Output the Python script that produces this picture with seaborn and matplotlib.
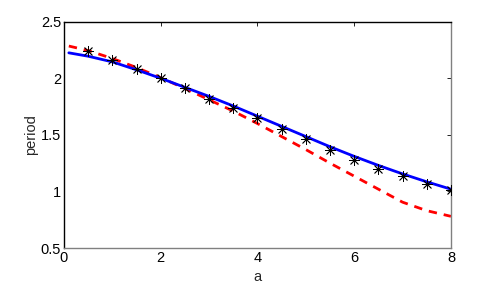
import numpy as np
import matplotlib
matplotlib.use("Agg")
import matplotlib.pyplot as plt
import seaborn as sns
import pandas as pd

# measured points (stars)
a_pts = [0.5, 1, 1.5, 2, 2.5, 3, 3.5, 4, 4.5, 5, 5.5, 6, 6.5, 7, 7.5, 8]
period_pts = [2.24, 2.16, 2.08, 2.00, 1.91, 1.82, 1.74, 1.65, 1.55, 1.46,
              1.37, 1.28, 1.20, 1.14, 1.07, 1.01]

# solid blue curve
a_blue = [0.1, 0.5, 1, 1.5, 2, 2.5, 3, 3.5, 4, 4.5, 5, 5.5, 6, 6.5, 7, 7.5, 8]
period_blue = [2.225, 2.195, 2.145, 2.075, 2.00, 1.92, 1.84, 1.755, 1.665,
               1.575, 1.485, 1.395, 1.31, 1.23, 1.155, 1.085, 1.02]

# dashed red curve
a_red = [0.1, 0.5, 1, 1.5, 2, 2.5, 3, 3.5, 4, 4.5, 5, 5.5, 6, 6.5, 7, 7.5, 8]
period_red = [2.285, 2.245, 2.175, 2.095, 2.005, 1.91, 1.81, 1.71, 1.60,
              1.485, 1.37, 1.25, 1.135, 1.02, 0.905, 0.83, 0.78]

xticks = [0, 2, 4, 6, 8]
yticks = [0.5, 1, 1.5, 2, 2.5]
ytick_labels = ['0.5', '1', '1.5', '2', '2.5']

sns.set_style("white")
plt.rcParams['font.family'] = ['Liberation Sans', 'DejaVu Sans']

fig = plt.figure(figsize=(4.98, 2.85), dpi=100)
ax = fig.add_axes([0.1285, 0.1298, 0.777, 0.794])

sns.lineplot(x=a_red, y=period_red, ax=ax, color='#ff0000', lw=2,
             linestyle=(0, (3, 2.5)), estimator=None, sort=False)
sns.lineplot(x=a_blue, y=period_blue, ax=ax, color='#0000ff', lw=2,
             estimator=None, sort=False)
sns.scatterplot(x=a_pts, y=period_pts, ax=ax, marker=(8, 2, 0), s=55,
                color='black', linewidth=0.6, zorder=5)

ax.set_xlim(0, 8)
ax.set_ylim(0.5, 2.5)
ax.set_xticks(xticks)
ax.set_xticklabels([str(t) for t in xticks])
ax.set_yticks(yticks)
ax.set_yticklabels(ytick_labels)
ax.tick_params(direction='in', length=3, width=0.6, labelsize=10.5,
               top=True, right=True, colors='black', pad=2)
for s in ['top', 'left']:
    ax.spines[s].set_color('black')
for s in ['bottom', 'right']:
    ax.spines[s].set_color('#808080')
for s in ax.spines.values():
    s.set_linewidth(1)
ax.set_xlabel('a', fontsize=10.5, labelpad=4)
ax.set_ylabel('period', fontsize=10.5, labelpad=2)

fig.savefig('out.png', dpi=100)
